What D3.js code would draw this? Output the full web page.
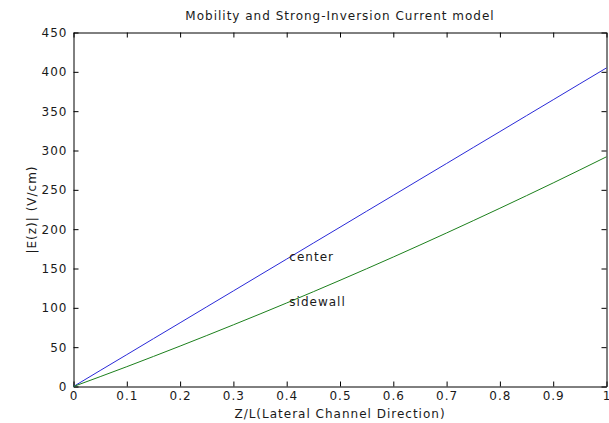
<!DOCTYPE html>
<html>
<head>
<meta charset="utf-8">
<script src="https://cdn.jsdelivr.net/npm/d3@7"></script>
<style>
  html, body { margin: 0; padding: 0; background: #fff; }
  svg { display: block; font-family: "DejaVu Sans", Verdana, sans-serif; }
  svg text { letter-spacing: 1px; }
</style>
</head>
<body>
<svg id="chart" width="609" height="423"></svg>
<script>
// Normalised lateral position along the channel
const zPositions = [0, 0.05, 0.1, 0.15, 0.2, 0.25, 0.3, 0.35, 0.4, 0.45, 0.5,
                    0.55, 0.6, 0.65, 0.7, 0.75, 0.8, 0.85, 0.9, 0.95, 1];
// |E(z)| in V/cm at the channel center
const centerField = [0, 20.3, 40.5, 60.8, 81, 101.3, 121.5, 141.8, 162, 182.3, 202.5,
                     222.8, 243, 263.3, 283.5, 303.8, 324, 344.3, 364.5, 384.8, 405];
// |E(z)| in V/cm at the sidewall
const sidewallField = [0, 12.5, 25.2, 38.2, 51.4, 64.8, 78.4, 92.2, 106.2, 120.5, 135,
                       149.7, 164.6, 179.8, 195.2, 210.8, 226.6, 242.6, 258.8, 275.3, 292];
const xTicks = [0, 0.1, 0.2, 0.3, 0.4, 0.5, 0.6, 0.7, 0.8, 0.9, 1];
const yTicks = [0, 50, 100, 150, 200, 250, 300, 350, 400, 450];
const curveLabels = [
  { text: "center", x: 0.405, y: 165 },
  { text: "sidewall", x: 0.405, y: 108 }
];

const svg = d3.select("#chart");
const plot = { left: 73.5, right: 606.5, top: 32.5, bottom: 386.5 };
const fontSize = 12;
const textColor = "#1a1a1a";

const x = d3.scaleLinear().domain([0, 1]).range([plot.left, plot.right]);
const y = d3.scaleLinear().domain([0, 450]).range([plot.bottom, plot.top]);

const tickLen = 5;
const fmt = d => d3.format("")(d);

// Bottom axis with labels, ticks pointing into the plot
const bottomAxis = svg.append("g")
  .attr("transform", `translate(0,${plot.bottom})`)
  .call(d3.axisBottom(x).tickValues(xTicks).tickFormat(fmt).tickSizeInner(-tickLen).tickSizeOuter(0));
// Top axis, ticks only
const topAxis = svg.append("g")
  .attr("transform", `translate(0,${plot.top})`)
  .call(d3.axisTop(x).tickValues(xTicks).tickFormat("").tickSizeInner(-tickLen).tickSizeOuter(0));
// Left axis with labels
const leftAxis = svg.append("g")
  .attr("transform", `translate(${plot.left},0)`)
  .call(d3.axisLeft(y).tickValues(yTicks).tickFormat(fmt).tickSizeInner(-tickLen).tickSizeOuter(0).tickPadding(6));
// Right axis, ticks only
const rightAxis = svg.append("g")
  .attr("transform", `translate(${plot.right},0)`)
  .call(d3.axisRight(y).tickValues(yTicks).tickFormat("").tickSizeInner(-tickLen).tickSizeOuter(0));

[bottomAxis, topAxis, leftAxis, rightAxis].forEach(g => {
  g.select(".domain").attr("stroke", "#000").attr("stroke-width", 1);
  g.selectAll(".tick line").attr("stroke", "#000").attr("stroke-width", 1);
  g.selectAll(".tick text").attr("fill", textColor).attr("font-size", fontSize)
    .attr("font-family", "'DejaVu Sans', Verdana, sans-serif");
});
bottomAxis.selectAll(".tick text").attr("dy", "0.71em").attr("y", 5);

// Field curves
const line = d3.line().x(d => x(d[0])).y(d => y(d[1]));
svg.append("path")
  .datum(zPositions.map((z, i) => [z, centerField[i]]))
  .attr("d", line).attr("fill", "none").attr("stroke", "#2a2ad8").attr("stroke-width", 1);
svg.append("path")
  .datum(zPositions.map((z, i) => [z, sidewallField[i]]))
  .attr("d", line).attr("fill", "none").attr("stroke", "#1c801c").attr("stroke-width", 1);

// Curve labels
svg.selectAll(".curve-label").data(curveLabels).join("text")
  .attr("class", "curve-label")
  .attr("x", d => x(d.x)).attr("y", d => y(d.y))
  .attr("dy", "0.35em")
  .attr("font-size", fontSize).attr("fill", textColor)
  .text(d => d.text);

// Title and axis titles
svg.append("text")
  .attr("x", (plot.left + plot.right) / 2).attr("y", 20)
  .attr("text-anchor", "middle").attr("font-size", fontSize).attr("fill", textColor)
  .text("Mobility and Strong-Inversion Current model");
svg.append("text")
  .attr("x", (plot.left + plot.right) / 2).attr("y", 418)
  .attr("text-anchor", "middle").attr("font-size", fontSize).attr("fill", textColor)
  .text("Z/L(Lateral Channel Direction)");
svg.append("text")
  .attr("transform", `translate(36,${(plot.top + plot.bottom) / 2}) rotate(-90)`)
  .attr("text-anchor", "middle").attr("font-size", fontSize).attr("fill", textColor)
  .text("|E(z)| (V/cm)");
</script>
</body>
</html>
